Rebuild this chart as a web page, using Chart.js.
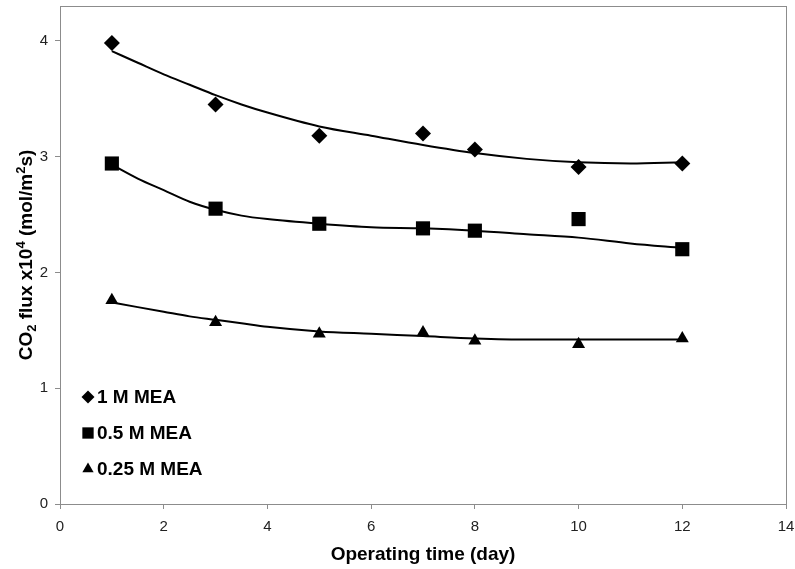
<!DOCTYPE html>
<html>
<head>
<meta charset="utf-8">
<script src="https://cdn.jsdelivr.net/npm/chart.js@4/dist/chart.umd.min.js"></script>
<style>
  html, body { margin: 0; padding: 0; background: #fff; }
  #wrap { width: 795px; height: 569px; }
</style>
</head>
<body>
<div id="wrap"><canvas id="fluxChart"></canvas></div>
<script>
// Mért pontok (nap, CO2 fluxus x10^4)
const days = [1, 3, 5, 7, 8, 10, 12];
const mea1 = [3.98, 3.45, 3.18, 3.20, 3.06, 2.91, 2.94];
const mea05 = [2.94, 2.55, 2.42, 2.38, 2.36, 2.46, 2.20];
const mea025 = [1.76, 1.57, 1.47, 1.48, 1.41, 1.38, 1.43];

// Trendvonalak
const trendDays = [1, 1.5, 2, 2.5, 3, 3.5, 4, 5, 6, 7, 8, 9, 10, 11, 12];
const trend1 = [3.91, 3.81, 3.71, 3.62, 3.53, 3.45, 3.38, 3.26, 3.18, 3.10, 3.03, 2.98, 2.95, 2.94, 2.95];
const trend05 = [2.93, 2.81, 2.71, 2.61, 2.54, 2.49, 2.46, 2.42, 2.39, 2.38, 2.36, 2.33, 2.30, 2.25, 2.21];
const trend025 = [1.74, 1.70, 1.66, 1.62, 1.59, 1.56, 1.53, 1.49, 1.47, 1.45, 1.43, 1.42, 1.42, 1.42, 1.42];

const xTicks = [0, 2, 4, 6, 8, 10, 12, 14];
const yTicks = [0, 1, 2, 3, 4];

const FONT = '"Liberation Sans", Arial, sans-serif';
const pts = (xs, ys) => xs.map((x, i) => ({ x, y: ys[i] }));

function scatterSet(label, values, style, radius) {
  return {
    type: 'scatter',
    label,
    data: pts(days, values),
    pointStyle: style,
    pointRadius: radius,
    pointHoverRadius: radius,
    backgroundColor: '#000',
    borderColor: '#000',
    borderWidth: 0,
  };
}

function trendSet(values) {
  return {
    type: 'line',
    label: '',
    data: pts(trendDays, values),
    borderColor: '#000',
    borderWidth: 2,
    pointRadius: 0,
    fill: false,
    cubicInterpolationMode: 'monotone',
  };
}

// Keret a rajzterület körül
const frame = {
  id: 'frame',
  beforeDatasetsDraw(chart) {
    const { ctx, chartArea: a } = chart;
    ctx.save();
    ctx.strokeStyle = '#8c8c8c';
    ctx.lineWidth = 1;
    ctx.strokeRect(a.left + 0.5, a.top + 0.5, a.right - a.left, a.bottom - a.top);
    ctx.restore();
  },
};

// Y tengely címe alsó/felső indexekkel
const yTitle = {
  id: 'yTitle',
  afterDraw(chart) {
    const { ctx, chartArea: a } = chart;
    const big = 'bold 19px ' + FONT;
    const small = 'bold 13px ' + FONT;
    const parts = [
      { t: 'CO', f: big, dy: 0 },
      { t: '2', f: small, dy: 4 },
      { t: ' flux x10', f: big, dy: 0 },
      { t: '4', f: small, dy: -7 },
      { t: ' (mol/m', f: big, dy: 0 },
      { t: '2', f: small, dy: -7 },
      { t: 's)', f: big, dy: 0 },
    ];
    ctx.save();
    let total = 0;
    parts.forEach((p) => { ctx.font = p.f; p.w = ctx.measureText(p.t).width; total += p.w; });
    ctx.translate(26, (a.top + a.bottom) / 2);
    ctx.rotate(-Math.PI / 2);
    ctx.fillStyle = '#000';
    ctx.textBaseline = 'alphabetic';
    let x = -total / 2;
    parts.forEach((p) => {
      ctx.font = p.f;
      ctx.fillText(p.t, x, 6 + p.dy);
      x += p.w;
    });
    ctx.restore();
  },
};

// Jelmagyarázat a bal alsó sarokban
const innerLegend = {
  id: 'innerLegend',
  afterDraw(chart) {
    const { ctx } = chart;
    const items = [
      { text: '1 M MEA', style: 'rectRot', r: 6.5, y: 397 },
      { text: '0.5 M MEA', style: 'rect', r: 8, y: 433 },
      { text: '0.25 M MEA', style: 'triangle', r: 6.5, y: 469 },
    ];
    ctx.save();
    ctx.fillStyle = '#000';
    ctx.strokeStyle = '#000';
    ctx.font = 'bold 19px ' + FONT;
    ctx.textBaseline = 'middle';
    items.forEach((it) => {
      Chart.helpers.drawPoint(ctx, { pointStyle: it.style, radius: it.r, borderWidth: 0 }, 88, it.y);
      ctx.fillStyle = '#000';
      ctx.fillText(it.text, 97, it.y + 1);
    });
    ctx.restore();
  },
};

new Chart(document.getElementById('fluxChart'), {
  type: 'scatter',
  data: {
    datasets: [
      trendSet(trend1),
      trendSet(trend05),
      trendSet(trend025),
      scatterSet('1 M MEA', mea1, 'rectRot', 8),
      scatterSet('0.5 M MEA', mea05, 'rect', 10),
      scatterSet('0.25 M MEA', mea025, 'triangle', 7.5),
    ],
  },
  options: {
    responsive: true,
    maintainAspectRatio: false,
    animation: false,
    layout: { autoPadding: false, padding: { top: 6, right: 9, left: 0, bottom: 0 } },
    plugins: {
      legend: { display: false },
      tooltip: { enabled: false },
    },
    scales: {
      x: {
        type: 'linear',
        min: 0,
        max: 14,
        afterBuildTicks: (s) => { s.ticks = xTicks.map((v) => ({ value: v })); },
        afterFit: (s) => { s.height = 65; s.paddingLeft = 0; s.paddingRight = 0; },
        grid: { drawOnChartArea: false, drawTicks: true, tickLength: 5, color: '#8c8c8c' },
        border: { color: '#8c8c8c' },
        ticks: { color: '#222', font: { family: FONT, size: 15 }, padding: 9, maxRotation: 0 },
        title: {
          display: true,
          text: 'Operating time (day)',
          color: '#000',
          font: { family: FONT, size: 19, weight: 'bold' },
          padding: { top: 0, bottom: 3 },
        },
      },
      y: {
        type: 'linear',
        min: 0,
        max: 4.3,
        afterBuildTicks: (s) => { s.ticks = yTicks.map((v) => ({ value: v })); },
        afterFit: (s) => { s.width = 60; s.paddingTop = 0; s.paddingBottom = 0; },
        grid: { drawOnChartArea: false, drawTicks: true, tickLength: 5, color: '#8c8c8c' },
        border: { color: '#8c8c8c' },
        ticks: { color: '#222', font: { family: FONT, size: 15 }, padding: 7 },
      },
    },
  },
  plugins: [frame, yTitle, innerLegend],
});
</script>
</body>
</html>
